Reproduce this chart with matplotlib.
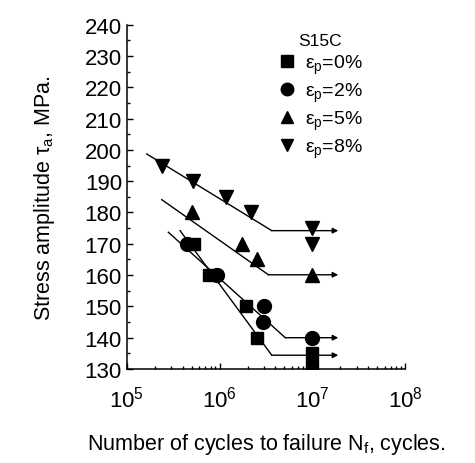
import matplotlib
matplotlib.use("Agg")
import matplotlib.pyplot as plt
from matplotlib.ticker import MultipleLocator, LogLocator, NullFormatter

plt.rcParams['font.family'] = ['Liberation Sans', 'DejaVu Sans']
plt.rcParams['mathtext.fontset'] = 'custom'
plt.rcParams['mathtext.rm'] = 'Liberation Sans'
plt.rcParams['mathtext.it'] = 'Liberation Sans'

# --- donnees ---
labels = ['0%', '2%', '5%', '8%']
markers = ['s', 'o', '^', 'v']

n_0 = [5.3e5, 7.6e5, 1.93e6, 2.55e6, 1e7, 1e7]
s_0 = [170, 160, 150, 140, 135, 131]
n_2 = [4.5e5, 9.3e5, 3.0e6, 2.92e6, 1e7]
s_2 = [170, 160, 150, 145, 140]
n_5 = [5.0e5, 1.73e6, 2.5e6, 1e7]
s_5 = [180, 170, 165, 160]
n_8 = [2.4e5, 5.2e5, 1.17e6, 2.2e6, 1e7, 1e7]
s_8 = [195, 190, 185, 180, 175, 170]

# droites de tendance : debut, coude, limite d'endurance
fit_n = [[3.75e5, 3.65e6], [2.8e5, 5.1e6], [2.38e5, 3.36e6], [1.64e5, 3.65e6]]
fit_s = [[174.2, 134.4], [173.7, 140], [184.1, 160.1], [198.7, 174.2]]
n_end = 1.9e7

fig = plt.figure(figsize=(4.75, 4.64), dpi=100)
ax = fig.add_axes([0.267, 0.2026, 0.586, 0.742])

series = [(n_0, s_0), (n_2, s_2), (n_5, s_5), (n_8, s_8)]
sizes = [9, 10, 10, 10]
for (n, s), m, lab, ms in zip(series, markers, labels, sizes):
    ax.plot(n, s, linestyle='none', marker=m, color='k', markersize=ms,
            label=r'$\varepsilon_p$=' + lab, clip_on=True)

for fn, fs in zip(fit_n, fit_s):
    ax.plot(fn, fs, color='k', lw=1)
    ax.annotate('', xy=(n_end, fs[1]), xytext=(fn[1], fs[1]),
                arrowprops=dict(arrowstyle='-|>', color='k', lw=1,
                                mutation_scale=8, shrinkA=0, shrinkB=0))

ax.set_xscale('log')
ax.set_xlim(1e5, 1e8)
ax.set_ylim(130, 240)
ax.yaxis.set_major_locator(MultipleLocator(10))
ax.yaxis.set_minor_locator(MultipleLocator(5))
ax.xaxis.set_major_locator(LogLocator(base=10, numticks=10))
ax.xaxis.set_minor_locator(LogLocator(base=10, subs=range(2, 10), numticks=10))
ax.xaxis.set_minor_formatter(NullFormatter())

ax.spines['top'].set_visible(False)
ax.spines['right'].set_visible(False)
for sp in ['left', 'bottom']:
    ax.spines[sp].set_linewidth(1.1)
ax.tick_params(which='both', direction='in', labelsize=16, width=1)
ax.tick_params(which='major', length=4)
ax.tick_params(which='minor', length=2.5)
ax.tick_params(axis='x', pad=12)

ax.set_xlabel(r'Number of cycles to failure N$_f$, cycles.', fontsize=15.5, labelpad=14)
ax.set_ylabel(r'Stress amplitude $\tau_a$, MPa.', fontsize=15.5, labelpad=20)

leg = ax.legend(title='S15C', loc='upper left', bbox_to_anchor=(0.5, 1.01),
                frameon=False, fontsize=14, title_fontsize=12.5, handletextpad=0.4,
                labelspacing=0.25, handlelength=1.0, markerscale=0.9,
                borderaxespad=0.2)

fig.savefig('out.png', dpi=100)
